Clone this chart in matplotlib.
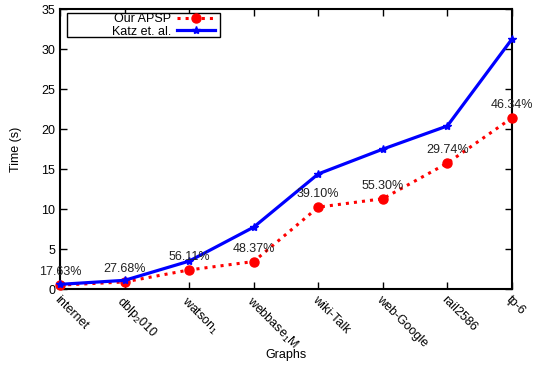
import matplotlib
matplotlib.use("Agg")
import matplotlib.pyplot as plt
from matplotlib.patches import Rectangle

plt.rcParams['font.family'] = ['Liberation Sans', 'DejaVu Sans']
plt.rcParams['mathtext.fontset'] = 'custom'
plt.rcParams['mathtext.rm'] = 'Liberation Sans'
plt.rcParams['mathtext.it'] = 'Liberation Sans'

graphs = ['internet', 'dblp$_2$010', 'watson$_1$', 'webbase$_1$M',
          'wiki-Talk', 'web-Google', 'rail2586', 'tp-6']
our_apsp = [0.5, 0.9, 2.4, 3.45, 10.25, 11.3, 15.75, 21.4]
katz = [0.6, 1.1, 3.5, 7.75, 14.4, 17.5, 20.4, 31.25]
speedup_labels = ['17.63%', '27.68%', '56.11%', '48.37%',
                  '39.10%', '55.30%', '29.74%', '46.34%']

fig = plt.figure(figsize=(5.36, 3.66), dpi=100)
ax = fig.add_axes([0.112, 0.21, 0.843, 0.765])

x = list(range(len(graphs)))
ax.plot(x, our_apsp, color='red', linestyle=':', linewidth=2.2,
        marker='o', markersize=6.5, label='Our APSP', clip_on=False, zorder=3)
ax.plot(x, katz, color='blue', linestyle='-', linewidth=2.3,
        marker='*', markersize=6, label='Katz et. al.', clip_on=False, zorder=3)

for xi, yi, txt in zip(x, our_apsp, speedup_labels):
    ax.annotate(txt, (xi, yi), xytext=(0, 5), textcoords='offset points',
                ha='center', va='bottom', fontsize=9, color='#222222')

ax.set_xlim(0, len(graphs) - 1)
ax.set_ylim(0, 35)
ax.set_yticks(range(0, 36, 5))
ax.set_xticks(x)
ax.set_xticklabels(graphs, rotation=-45, ha='left', va='top',
                   rotation_mode='anchor', fontsize=9)
ax.tick_params(axis='y', labelsize=9)
ax.tick_params(direction='in', top=True, right=True, length=5, width=1)
for s in ax.spines.values():
    s.set_linewidth(1.5)

ax.set_xlabel('Graphs', fontsize=9)
ax.xaxis.set_label_coords(0.5, -0.215)
ax.set_ylabel('Time (s)', fontsize=9)
ax.yaxis.set_label_coords(-0.085, 0.5)

# gnuplot-style key: right-aligned text with the sample after it, inside a wide box
ax.add_patch(Rectangle((0.0155, 0.9), 0.338, 0.086, transform=ax.transAxes,
                       facecolor='white', edgecolor='black', linewidth=1.0,
                       zorder=4))
leg = ax.legend(loc='upper right', markerfirst=False, fontsize=9,
                frameon=False, handlelength=3.0, borderpad=0.1,
                labelspacing=0.05, borderaxespad=0, handletextpad=0.5,
                bbox_to_anchor=(0.345, 0.99))
leg.set_zorder(5)

fig.savefig('out.png', dpi=100)
